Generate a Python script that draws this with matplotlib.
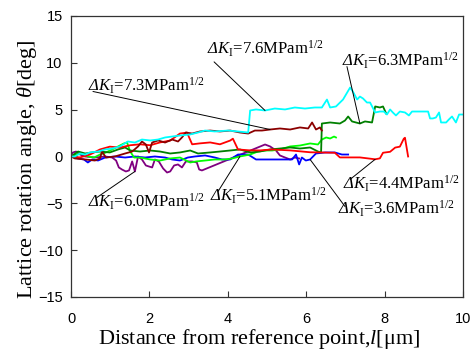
import numpy as np
import matplotlib.pyplot as plt

plt.rcParams['font.family'] = ['Liberation Serif', 'DejaVu Serif']
plt.rcParams['mathtext.fontset'] = 'custom'
plt.rcParams['mathtext.rm'] = 'Liberation Serif'
plt.rcParams['mathtext.it'] = 'Liberation Serif:italic'
plt.rcParams['mathtext.cal'] = 'Liberation Serif:italic'  # italic capital Delta

# lattice rotation profiles, one per stress intensity range
dk_cyan_x = [0, 0.1, 0.23, 0.36, 0.48, 0.69, 0.87, 1.05, 1.25, 1.45, 1.63, 1.81, 2.02, 2.22,
             2.4, 2.58, 2.78, 3.04, 3.24, 3.42, 3.67, 4.01, 4.26, 4.52, 4.57, 4.72, 4.95,
             5.2, 5.46, 5.71, 5.97, 6.22, 6.4, 6.53, 6.61, 6.76, 6.94, 7.12, 7.19, 7.3, 7.37,
             7.45, 7.55, 7.63, 7.76, 7.88, 7.98, 8.06, 8.14, 8.21, 8.29, 8.39, 8.52, 8.62,
             8.7, 8.83, 8.95, 9.11, 9.16, 9.23, 9.31, 9.39, 9.44, 9.57, 9.64, 9.72, 9.82,
             9.9, 10.0]
dk_cyan_y = [0, 0, 0.32, 0.21, 0.43, 0.53, 0.75, 0.85, 1.07, 1.6, 1.49, 1.81, 1.71, 1.81,
             2.03, 2.13, 2.24, 2.35, 2.56, 2.77, 2.67, 2.77, 2.67, 2.56, 4.91, 5.02, 4.91,
             5.12, 5.02, 5.23, 5.12, 5.23, 5.23, 6.08, 5.23, 5.34, 6.08, 7.36, 6.94, 6.08, 6.4,
             6.19, 5.76, 5.76, 4.7, 4.8, 4.8, 4.48, 5.02, 4.7, 4.38, 4.8, 4.7, 4.38,
             4.8, 4.8, 4.8, 4.8, 4.06, 4.06, 4.16, 4.7, 3.63, 3.63, 3.95, 4.27, 3.63,
             4.48, 4.48]

dk_maroon_x = [0, 0.1, 0.36, 0.61, 0.74, 0.79, 0.89, 1.12, 1.38, 1.56, 1.71, 1.81, 1.91,
               1.99, 2.07, 2.22, 2.4, 2.58, 2.73, 2.83, 2.93, 3.09, 3.29, 3.55, 3.8, 4.06,
               4.31, 4.52, 4.69, 4.87, 5.08, 5.33, 5.59, 5.84, 6.05, 6.15, 6.25, 6.35, 6.4]
dk_maroon_y = [0, -0.21, -0.32, -0.43, -0.21, 0.53, -0.11, 0, 0.32, 0.53, 1.07, 1.6, 1.28,
               0.43, 1.49, 1.71, 1.49, 1.81, 1.6, 2.03, 2.56, 2.45, 2.67, 2.77, 2.67, 2.77,
               2.56, 2.45, 2.77, 2.77, 2.88, 2.99, 2.88, 3.1, 2.99, 3.63, 2.88, 3.1, 2.77]

dk_dgreen_x = [0, 0.18, 0.36, 0.54, 0.74, 0.99, 1.2, 1.38, 1.51, 1.76, 2.02, 2.27, 2.53,
               2.78, 3.04, 3.24, 3.55, 3.8, 4.06, 4.31, 4.57, 4.82, 5.08, 5.33, 5.59, 5.84,
               6.1, 6.3, 6.38, 6.4, 6.61, 6.86, 6.99, 7.07, 7.17, 7.37, 7.5, 7.68, 7.76,
               7.88, 7.96, 8.04]
dk_dgreen_y = [0, 0.53, 0.32, 0.43, 0.53, 0.43, 0.75, 0.96, 0.64, 0.53, 0.64, 0.53, 0.32,
               0.43, 0.64, 0.32, 0.43, 0.53, 0.64, 0.75, 0.43, 0.53, 0.75, 0.85, 0.96, 0.85,
               0.96, 0.53, 0.43, 3.52, 3.63, 3.52, 3.84, 4.27, 3.74, 3.52, 3.74, 3.63, 5.34,
               5.23, 5.34, 4.59]

dk_lgreen_x = [0, 0.13, 0.28, 0.43, 0.59, 0.74, 0.89, 1.05, 1.2, 1.35, 1.43, 1.51, 1.61,
               1.76, 2.02, 2.27, 2.53, 2.78, 3.04, 3.19, 3.42, 3.67, 3.93, 4.11, 4.31, 4.57,
               4.77, 4.95, 5.13, 5.33, 5.59, 5.84, 6.1, 6.3, 6.4, 6.51, 6.61, 6.71, 6.76]
dk_lgreen_y = [0, 0.21, 0.32, 0, -0.11, 0.21, 0.43, 0.75, 1.07, 1.39, 1.49, 0.53, -0.11,
               -0.11, -0.32, -0.43, -0.21, -0.11, -0.64, -0.53, -0.43, -0.32, -0.32, -0.21,
               0, 0.21, 0.53, 0.64, 0.64, 0.75, 1.07, 1.17, 1.39, 1.28, 1.81, 2.03, 1.92,
               2.13, 2.03]

dk_red_x = [0, 0.23, 0.48, 0.74, 0.99, 1.25, 1.51, 1.76, 2.02, 2.27, 2.53, 2.78, 2.96,
            3.09, 3.29, 3.55, 3.8, 4.06, 4.13, 4.26, 4.57, 4.82, 5.13, 5.59, 6.1, 6.73,
            6.86, 7.37, 7.76, 7.88, 7.96, 8.14, 8.27, 8.39, 8.49, 8.52, 8.6]
dk_red_y = [0, -0.1, 0.2, 0.75, 1.05, 0.95, 1.2, 1.3, 1.2, 1.5, 1.7, 2.45, 2.55,
            1.3, 1.4, 1.5, 1.3, 1.7, 1.9, 0.75, 0.65, 0.65, 0.75, 0.65, 0.45, 0.4,
            -0.1, -0.1, -0.3, -0.2, 0.4, 0.5, 0.95, 1.05, 1.9, 2.0, 0.0]

dk_blue_x = [0, 0.18, 0.33, 0.43, 0.54, 0.69, 0.87, 1.12, 1.38, 1.63, 1.89, 2.14, 2.4,
             2.58, 2.78, 2.98, 3.16, 3.42, 3.67, 3.85, 4.06, 4.26, 4.52, 4.72, 4.95, 5.2,
             5.46, 5.64, 5.74, 5.82, 5.89, 5.99, 6.1, 6.25, 6.48, 6.73, 6.91, 7.07]
dk_blue_y = [0, -0.21, -0.32, -0.64, -0.32, -0.43, -0.11, 0, -0.11, 0, -0.11, 0, -0.11,
             -0.32, -0.43, -0.11, 0, 0.11, -0.11, -0.32, -0.32, 0.21, 0.21, -0.32, -0.32,
             -0.32, -0.32, -0.32, 0.21, -0.85, -0.11, -0.43, -0.32, 0.32, 0.43, 0.43, 0.21,
             0.21]

dk_purple_x = [0, 0.05, 0.13, 0.23, 0.36, 0.61, 0.87, 1.05, 1.15, 1.22, 1.3, 1.4, 1.48,
               1.56, 1.63, 1.71, 1.81, 1.91, 1.99, 2.07, 2.14, 2.24, 2.35, 2.45, 2.53, 2.63,
               2.73, 2.83, 2.93, 3.09, 3.21, 3.27, 3.34, 4.95, 5.08, 5.23, 5.33, 5.46, 5.59,
               5.71, 5.82]
dk_purple_y = [0.11, 0.43, 0.53, 0.21, 0, -0.11, 0, -0.11, -0.43, -1.17, -1.39, -1.6, -1.49,
               -0.53, -1.6, 0, -0.32, -0.96, -1.07, -1.17, -0.32, -0.53, -1.28, -1.71, -1.6,
               -0.96, -0.85, -1.17, -0.53, -0.53, -0.64, -1.39, -1.49, 1.28, 1.07, 0.64, 0.11,
               -0.11, -0.32, -0.11, -0.21]

fig = plt.figure(figsize=(4.75, 3.55), dpi=100)
ax = fig.add_axes([0.1495, 0.1634, 0.8252, 0.7916])

lw = 1.3
ax.plot(dk_purple_x, dk_purple_y, color='#800080', lw=lw)
ax.plot(dk_blue_x, dk_blue_y, color='#0000ff', lw=lw)
ax.plot(dk_lgreen_x, dk_lgreen_y, color='#00ff00', lw=lw)
ax.plot(dk_dgreen_x, dk_dgreen_y, color='#008000', lw=lw)
ax.plot(dk_red_x, dk_red_y, color='#ff0000', lw=lw)
ax.plot(dk_maroon_x, dk_maroon_y, color='#8b0000', lw=lw)
ax.plot(dk_cyan_x, dk_cyan_y, color='#00ffff', lw=lw)


def point_near(xs, ys, x0):
    i = int(np.argmin(np.abs(np.asarray(xs) - x0)))
    return xs[i], ys[i]


# (label value, series, leader start, leader target x, text position)
labels = [
    ('7.6', dk_cyan_x, dk_cyan_y, (3.65, 10.1), 5.03, (3.47, 10.9)),
    ('6.3', dk_dgreen_x, dk_dgreen_y, (7.04, 9.6), 7.42, (6.91, 9.6)),
    ('7.3', dk_maroon_x, dk_maroon_y, (0.56, 6.94), 5.08, (0.43, 6.94)),
    ('6.0', dk_purple_x, dk_purple_y, (0.66, -4.38), 1.6, (0.43, -5.44)),
    ('5.1', dk_lgreen_x, dk_lgreen_y, (3.75, -3.74), 4.33, (3.55, -4.8)),
    ('4.4', dk_red_x, dk_red_y, (7.12, -2.45), 7.76, (6.94, -3.52)),
    ('3.6', dk_blue_x, dk_blue_y, (6.99, -5.34), 6.12, (6.81, -6.19)),
]
for val, xs, ys, start, tx, tpos in labels:
    ax.annotate('', xy=point_near(xs, ys, tx), xytext=start,
                arrowprops=dict(arrowstyle='-', color='k', lw=0.7,
                                shrinkA=0, shrinkB=0))
    ax.text(tpos[0], tpos[1],
            r'$\mathcal{\Delta}\mathit{K}_{\mathrm{I}}$=' + val + r'MPam$^{1/2}$',
            fontsize=12, va='baseline', ha='left')

ax.set_xlim(0, 10)
ax.set_ylim(-15, 15)
ax.set_xticks(np.arange(0, 11, 2))
ax.set_yticks(np.arange(-15, 16, 5))
ax.tick_params(direction='in', length=4, width=0.8, top=False, right=False,
               labelsize=10.5, colors='#333333', labelcolor='black')
ax.tick_params(axis='x', pad=11)
ax.tick_params(axis='y', pad=6)
for lab in ax.get_xticklabels() + ax.get_yticklabels():
    lab.set_fontfamily('Liberation Sans')
for sp in ax.spines.values():
    sp.set_color('#333333')
    sp.set_linewidth(0.9)

ax.set_xlabel(r'Distance from reference point,$\mathit{l}$[$\mathrm{\mu}$m]', fontsize=16)
ax.set_ylabel(r'Lattice rotation angle, $\mathit{\theta}$[deg]', fontsize=16)
ax.xaxis.set_label_coords(0.48, -0.108)
ax.yaxis.set_label_coords(-0.082, 0.453)

fig.savefig('out.png', dpi=100)
